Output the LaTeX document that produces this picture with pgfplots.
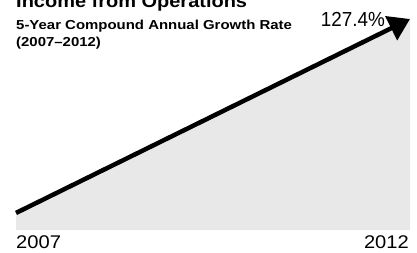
\documentclass[border=0pt]{standalone}
\usepackage{fontspec}
\setmainfont{Liberation Sans}
\usepackage{pgfplots}
\pgfplotsset{compat=1.18}
\usetikzlibrary{arrows.meta}
\begin{document}
\begin{tikzpicture}
\useasboundingbox (0,0) rectangle (417bp,253bp);
\begin{axis}[
  at={(16bp,23bp)}, anchor=south west,
  scale only axis, width=394bp, height=211bp,
  xmin=2007, xmax=2012, ymin=88.8, ymax=227.4,
  axis lines=none, ticks=none, clip=false,
]
\addplot[fill=black!9, draw=none] coordinates {(2007,88.8) (2007,100) (2012,227.4) (2012,88.8)} -- cycle;
\addplot[line width=4.5bp, black, -{Triangle[length=21bp,width=26bp]}] coordinates {(2007,100) (2012,227.4)};
\end{axis}
\node[anchor=base west, inner sep=0] at (16bp,245bp) {\scalebox{1.11}[1]{\fontsize{18bp}{21bp}\selectfont\bfseries Income from Operations}};
\node[anchor=base west, inner sep=0] at (16bp,223bp) {\scalebox{1.15}[1]{\fontsize{13bp}{15bp}\selectfont\bfseries 5-Year Compound Annual Growth Rate}};
\node[anchor=base west, inner sep=0] at (16bp,206bp) {\scalebox{1.15}[1]{\fontsize{13bp}{15bp}\selectfont\bfseries (2007--2012)}};
\node[anchor=base east, inner sep=0] at (385bp,226bp) {\scalebox{1.02}[1.1]{\fontsize{18.5bp}{22bp}\selectfont 127.4\%}};
\node[anchor=base west, inner sep=0] at (16bp,5bp) {\scalebox{1.15}[1.05]{\fontsize{17.5bp}{21bp}\selectfont 2007}};
\node[anchor=base east, inner sep=0] at (409bp,5bp) {\scalebox{1.15}[1.05]{\fontsize{17.5bp}{21bp}\selectfont 2012}};
\end{tikzpicture}
\end{document}
